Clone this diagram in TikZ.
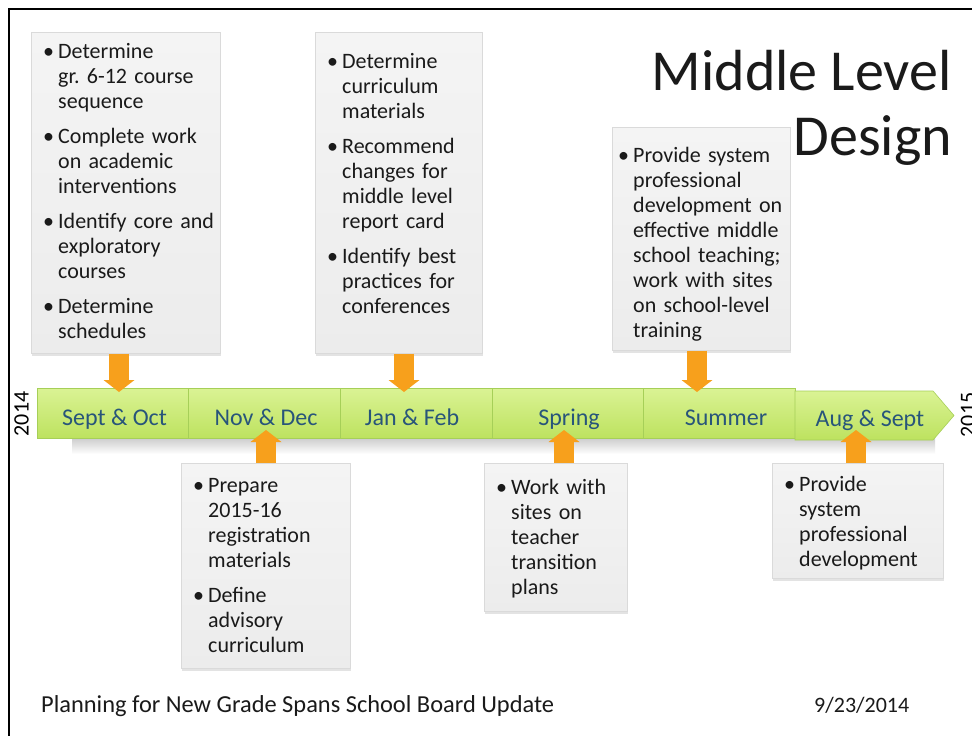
\documentclass[tikz,border=0pt]{standalone}
\usepackage{fontspec}
\setmainfont{Carlito}
\usetikzlibrary{arrows.meta,shadows}
\definecolor{barTop}{HTML}{DAF394}
\definecolor{barBot}{HTML}{BDE25F}
\definecolor{barEdge}{HTML}{A6CF58}
\definecolor{lblCol}{HTML}{28557A}
\definecolor{arrCol}{HTML}{F7A01C}
\definecolor{boxTop}{HTML}{F4F4F4}
\definecolor{boxBot}{HTML}{ECECEC}
\definecolor{boxEdge}{HTML}{DADADA}
\definecolor{txtCol}{HTML}{1A1A1A}
\frenchspacing
\hyphenpenalty=10000
\newcommand\itm[1]{{\hangindent=15pt\hangafter=1\noindent\makebox[15pt][l]{\strut\textbullet}#1\par}}
\newcommand\gapp{\vspace{10pt}}
\begin{document}
\begin{tikzpicture}[x=1pt,y=-1pt,
  card/.style={draw=boxEdge, line width=0.6pt, top color=boxTop, bottom color=boxBot,
    drop shadow={shadow xshift=0.5pt, shadow yshift=-3pt, opacity=0.22},
    anchor=north west, inner sep=0pt},
  bodytext/.style={anchor=north west, inner sep=0pt, text width=260pt, align=left,
    font=\fontsize{22}{25}\selectfont, text=txtCol},
  seg/.style={draw=barEdge, line width=0.6pt, top color=barTop, bottom color=barBot,
    anchor=north west, inner sep=0pt, minimum height=50pt},
  lbl/.style={anchor=base, font=\fontsize{24}{28}\selectfont, text=lblCol, inner sep=0pt},
  arr/.style={draw=arrCol, line width=20pt, -{Triangle[length=12pt,width=31pt,line width=0pt]}},
  yr/.style={font=\fontsize{22}{26}\selectfont, rotate=90, inner sep=0pt}
]
\useasboundingbox (0,0) rectangle (972,736);
\fill[white] (0,0) rectangle (972,736);
% frame
\draw[line width=2.5pt] (9,736) -- (9,9) -- (972,9);

% title
\node[anchor=base east, inner sep=0pt, font=\fontsize{58}{65}\selectfont, text=txtCol] (t1) at (952,90) {Middle Level};
\node[anchor=base east, inner sep=0pt, font=\fontsize{58}{65}\selectfont, text=txtCol] (t2) at (952,155) {Design};

% bar shadow
\shade[top color=black!28, bottom color=white, opacity=0.7] (72,438) rectangle (935,454);

% timeline segments
\node[seg, minimum width=151pt] (s1) at (37,388) {};
\node[seg, minimum width=152pt] (s2) at (188,388) {};
\node[seg, minimum width=152pt] (s3) at (340,388) {};
\node[seg, minimum width=151pt] (s4) at (492,388) {};
\node[seg, minimum width=152pt] (s5) at (643,388) {};
\shade[draw=barEdge, line width=0.6pt, top color=barTop, bottom color=barBot]
  (795,391) -- (933,391) -- (954,415.5) -- (933,440) -- (795,440) -- cycle;
\coordinate (s6) at (870,415);

\node[lbl] (l1) at (114.5,425) {Sept \& Oct};
\node[lbl] (l2) at (266,425) {Nov \& Dec};
\node[lbl] (l3) at (412,425) {Jan \& Feb};
\node[lbl] (l4) at (569,425) {Spring};
\node[lbl] (l5) at (726,425) {Summer};
\node[lbl] (l6) at (870,426) {Aug \& Sept};

% years
\node[yr] (y1) at (21.5,414) {2014};
\node[yr] (y2) at (968,415) {2015};

% boxes above
\node[card, minimum width=189pt, minimum height=321pt] (bA) at (31,32) {};
\node[bodytext] (xA) at (43,41) {%
\itm{Determine\newline gr. 6-12 course\newline sequence}\gapp
\itm{Complete work\newline on academic\newline interventions}\gapp
\itm{Identify core and\newline exploratory\newline courses}\gapp
\itm{Determine\newline schedules}};

\node[card, minimum width=167pt, minimum height=321pt] (bB) at (315,32) {};
\node[bodytext] (xB) at (327,51) {%
\itm{Determine\newline curriculum\newline materials}\gapp
\itm{Recommend\newline changes for\newline middle level\newline report card}\gapp
\itm{Identify best\newline practices for\newline conferences}};

\node[card, minimum width=178pt, minimum height=223pt] (bC) at (612,127) {};
\node[bodytext] (xC) at (618,145) {%
\itm{Provide system\newline professional\newline development on\newline effective middle\newline school teaching;\newline work with sites\newline on school-level\newline training}};

% boxes below
\node[card, minimum width=169pt, minimum height=205pt] (bD) at (181,463) {};
\node[bodytext] (xD) at (193,475) {%
\itm{Prepare\newline 2015-16\newline registration\newline materials}\gapp
\itm{Define\newline advisory\newline curriculum}};

\node[card, minimum width=143pt, minimum height=148pt] (bE) at (484,463) {};
\node[bodytext] (xE) at (496,477) {%
\itm{Work with\newline sites on\newline teacher\newline transition\newline plans}};

\node[card, minimum width=171pt, minimum height=115pt] (bF) at (772,463) {};
\node[bodytext] (xF) at (784,474) {%
\itm{Provide\newline system\newline professional\newline development}};

% arrows
\coordinate (aA) at (119,392);
\coordinate (aB) at (404,392);
\coordinate (aC) at (697,392);
\coordinate (aD) at (266,430);
\coordinate (aE) at (564,430);
\coordinate (aF) at (856,430);
\draw[arr] (aA |- bA.south) -- (aA);
\draw[arr] (aB |- bB.south) -- (aB);
\draw[arr] (aC |- bC.south) -- (aC);
\draw[arr] (aD |- bD.north) -- (aD);
\draw[arr] (aE |- bE.north) -- (aE);
\draw[arr] (aF |- bF.north) -- (aF);

% footer
\node[anchor=base west, inner sep=0pt, font=\fontsize{24.4}{28}\selectfont, text=txtCol] (ft) at (41,712) {Planning for New Grade Spans School Board Update};
\node[anchor=base west, inner sep=0pt, font=\fontsize{22}{26}\selectfont, text=txtCol] (dt) at (814,712) {9/23/2014};
\end{tikzpicture}
\end{document}
